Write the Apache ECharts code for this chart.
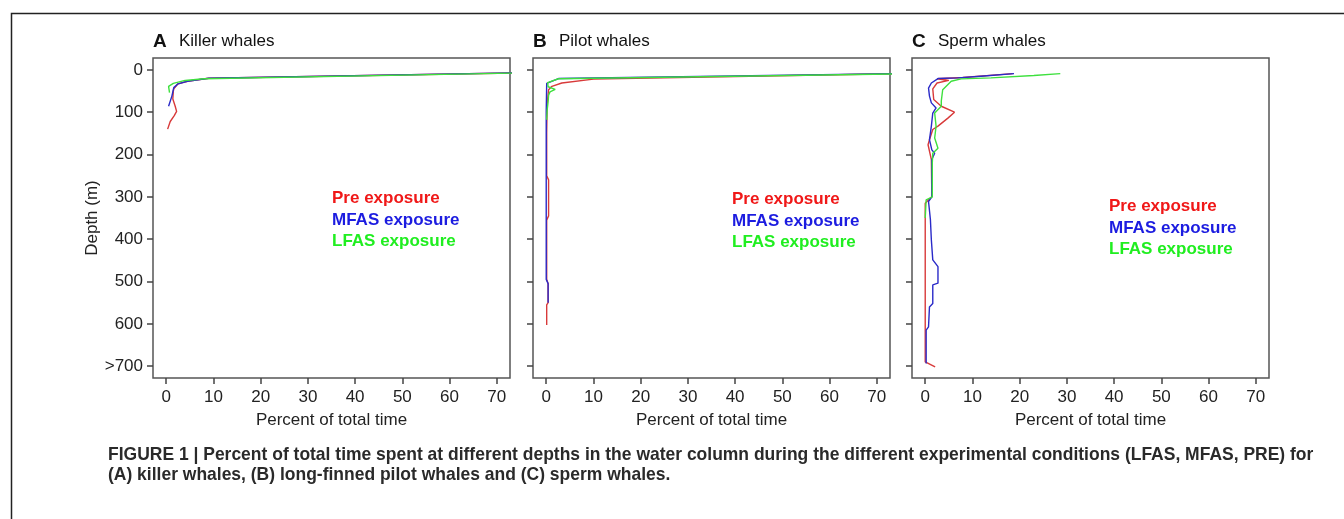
<!DOCTYPE html>
<html>
<head>
<meta charset="utf-8">
<script src="https://cdn.jsdelivr.net/npm/echarts@6/dist/echarts.min.js"></script>
<style>html,body{margin:0;padding:0;background:#fff;}#c{width:1344px;height:519px;}</style>
</head>
<body>
<div id="c"></div>
<script>
// ---- data ----
const depthTicks = [0, 100, 200, 300, 400, 500, 600, 700];
const depthTickLabels = ['0', '100', '200', '300', '400', '500', '600', '>700'];
const percentTicks = [0, 10, 20, 30, 40, 50, 60, 70];
const seriesNames = ['Pre exposure', 'MFAS exposure', 'LFAS exposure'];
const panelLetters = ['A', 'B', 'C'];
const panelNames = ['Killer whales', 'Pilot whales', 'Sperm whales'];
const xAxisTitle = 'Percent of total time';
const yAxisTitle = 'Depth (m)';
const captionLines = [
  'FIGURE 1 | Percent of total time spent at different depths in the water column during the different experimental conditions (LFAS, MFAS, PRE) for',
  '(A) killer whales, (B) long-finned pilot whales and (C) sperm whales.'
];

// [percent, depth]
const killerPre  = [[85,5],[9,20],[4.5,27],[2.5,33],[1.6,45],[1.5,51],[1.4,69],[1.9,86],[2.2,98],[1.7,108],[0.85,122],[0.3,140]];
const killerMfas = [[84,5],[9,20],[4.5,27],[2.5,33],[1.6,42],[1.5,47],[1.2,62],[0.5,86]];
const killerLfas = [[86,5],[8,21],[4,25],[1.5,32],[0.5,39],[0.7,54]];

const pilotPre  = [[85,7],[10,22],[3.3,31],[1.2,39],[0.5,47],[0.2,80],[0.1,150],[0.1,250],[0.5,260],[0.5,345],[0.1,355],[0.1,495],[0.4,505],[0.4,550],[0.1,555],[0.1,603]];
const pilotMfas = [[85,7],[2.6,20.6],[0.1,32],[0,100],[0,300],[0,495],[0.4,505],[0.4,550]];
const pilotLfas = [[85,8],[2.6,21],[0.3,30],[0.4,40],[1.9,46],[0.8,52],[0.5,60],[0.4,75],[0.2,95],[0.1,118]];

const spermPre  = [[18.5,9],[8,18],[2.5,21],[5,25],[2.5,31],[1.6,45],[1.8,70],[3.4,86],[6.2,100],[4.8,114],[2.7,133],[1.6,141],[0.9,165],[0.6,177],[1.3,212],[1.4,300],[0.9,305],[0,315],[0,690],[2.1,702]];
const spermMfas = [[18.8,9],[11.8,15],[6.9,19],[2.7,20.6],[1.3,31],[0.7,43],[0.9,62],[1.3,78],[2.3,90],[1.6,102],[1.3,133],[0.9,165],[1.4,189],[2,197],[1.4,212],[1.4,300],[0.7,311],[1.1,354],[1.3,402],[1.6,449],[2.7,465],[2.7,504],[1.6,508],[1.6,552],[0.9,560],[0.7,607],[0.2,615],[0.2,694]];
const spermLfas = [[28.6,9],[23,13.5],[13.9,19],[7.6,21.3],[5.5,27],[3.7,47],[3.4,74],[3.4,86],[2,102],[2.3,133],[2,161],[2.7,185],[1.6,197],[1.5,220],[1.5,300],[0.2,307],[0,350]];

const panelData = [
  [killerPre, killerMfas, killerLfas],
  [pilotPre, pilotMfas, pilotLfas],
  [spermPre, spermMfas, spermLfas]
];

// ---- styles / layout ----
const lineColors = ['#d83a3a', '#2a2ac8', '#3ee03e'];
const textColors = ['#f01818', '#1c1ce0', '#20ee20'];
const gridLefts = [153, 533, 912];
const gridTop = 58, gridW = 357, gridH = 320;
const legendPos = [[332, 200], [732, 201], [1109, 208]];
const FONT = 'Liberation Sans, Arial, sans-serif';

const chart = echarts.init(document.getElementById('c'), null, {renderer: 'canvas'});

const grids = [], xAxes = [], yAxes = [], series = [], graphics = [];
for (let p = 0; p < 3; p++) {
  grids.push({left: gridLefts[p], top: gridTop, width: gridW, height: gridH,
    show: true, borderColor: '#555', borderWidth: 1.5, backgroundColor: 'transparent'});
  xAxes.push({type: 'value', gridIndex: p, min: -2.8, max: 72.8, position: 'bottom',
    name: xAxisTitle, nameLocation: 'middle', nameGap: 34,
    nameTextStyle: {fontFamily: FONT, fontSize: 17, color: '#222'},
    axisLine: {show: false, onZero: false}, splitLine: {show: false},
    axisTick: {show: true, inside: false, length: 6, customValues: percentTicks, lineStyle: {color: '#444', width: 1.5}},
    axisLabel: {show: true, customValues: percentTicks, margin: 11, fontFamily: FONT, fontSize: 17, color: '#222'}});
  yAxes.push({type: 'value', gridIndex: p, min: -28, max: 728, inverse: true, position: 'left',
    name: p === 0 ? yAxisTitle : '', nameLocation: 'middle', nameGap: 46,
    nameTextStyle: {fontFamily: FONT, fontSize: 17, color: '#222'},
    axisLine: {show: false, onZero: false}, splitLine: {show: false},
    axisTick: {show: true, inside: false, length: 6, customValues: depthTicks, lineStyle: {color: '#444', width: 1.5}},
    axisLabel: {show: p === 0, customValues: depthTicks, margin: 10, fontFamily: FONT, fontSize: 17, color: '#222',
      formatter: v => depthTickLabels[depthTicks.indexOf(v)]}});
  for (let s = 0; s < 3; s++) {
    series.push({type: 'line', name: seriesNames[s], xAxisIndex: p, yAxisIndex: p,
      data: panelData[p][s], showSymbol: false, symbol: 'none', clip: true, smooth: false,
      lineStyle: {color: lineColors[s], width: 1.4}, z: 2 + s, animation: false});
    graphics.push({type: 'text', left: legendPos[p][0], top: legendPos[p][1] + s * 21.5 - 10,
      style: {text: seriesNames[s], fill: textColors[s], font: 'bold 17px ' + FONT}});
  }
  graphics.push({type: 'text', left: gridLefts[p], top: 32,
    style: {text: panelLetters[p], fill: '#111', font: 'bold 19px ' + FONT}});
  graphics.push({type: 'text', left: gridLefts[p] + 26, top: 33,
    style: {text: panelNames[p], fill: '#111', font: '17px ' + FONT}});
}
// outer frame
graphics.push({type: 'polyline', shape: {points: [[11.5, 519], [11.5, 13.5], [1344, 13.5]]},
  style: {stroke: '#222', lineWidth: 1.5, fill: null}});
captionLines.forEach((t, i) => {
  graphics.push({type: 'text', x: 108, y: 445 + i * 20, scaleX: 0.92, scaleY: 1,
    style: {text: t, fill: '#2a2a2a', font: 'bold 19px "Liberation Sans", Arial, sans-serif'}});
});

chart.setOption({animation: false, backgroundColor: '#fff', grid: grids, xAxis: xAxes, yAxis: yAxes, series: series, graphic: graphics});
</script>
</body>
</html>
